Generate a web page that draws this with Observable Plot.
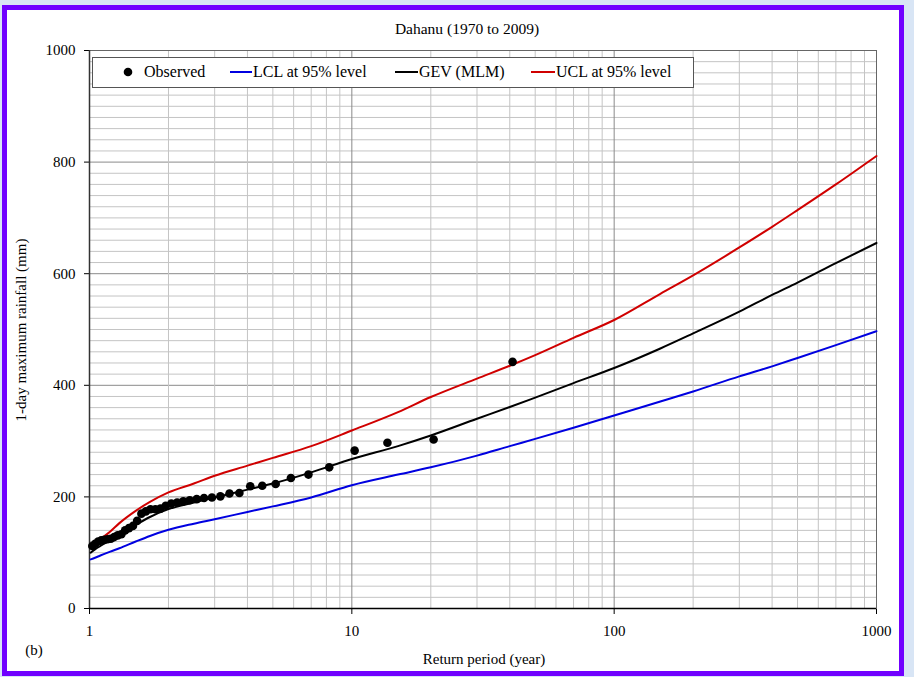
<!DOCTYPE html>
<html><head><meta charset="utf-8">
<script src="https://cdn.jsdelivr.net/npm/d3@7"></script>
<script src="https://cdn.jsdelivr.net/npm/@observablehq/plot@0.6"></script>
<style>
html,body{margin:0;padding:0;}
body{width:914px;height:677px;background:#d8e5f5;position:relative;overflow:hidden;font-family:"Liberation Serif","Times New Roman",serif;color:#000;}
#panel{position:absolute;left:2px;top:5px;width:902px;height:671px;border:5px solid #7000ff;background:#fff;box-sizing:border-box;}
#chart{position:absolute;left:0;top:0;}
.txt{position:absolute;font-size:15px;white-space:nowrap;line-height:1;}
#title{left:467px;top:29px;transform:translate(-50%,-50%);font-size:15.5px;}
#xlabel{left:484px;top:659px;transform:translate(-50%,-50%);}
#ylabel{left:21px;top:330px;transform:translate(-50%,-50%) rotate(-90deg);}
#tag{left:34px;top:650px;transform:translate(-50%,-50%);}
#legend{position:absolute;left:92px;top:57px;width:602px;height:31px;box-sizing:border-box;border:1px solid #555;background:#fff;}
.lt{position:absolute;font-size:16px;white-space:nowrap;line-height:1;top:72px;transform:translateY(-50%);}
#legsw{position:absolute;left:0;top:0;pointer-events:none;}
</style></head>
<body>
<div id="panel"></div>
<div id="chart"></div>
<div class="txt" id="title">Dahanu (1970 to 2009)</div>
<div class="txt" id="xlabel">Return period (year)</div>
<div class="txt" id="ylabel">1-day maximum rainfall (mm)</div>
<div class="txt" id="tag">(b)</div>
<div id="legend"></div>
<svg id="legsw" width="914" height="677"></svg>
<script>
// Observed annual maxima (return period in years, rainfall in mm)
const returnPeriod = [1.025,1.051,1.079,1.108,1.139,1.171,1.206,1.242,1.281,1.323,1.367,1.414,1.464,1.519,1.577,1.64,1.708,1.783,1.864,1.952,2.05,2.158,2.278,2.41,2.5625,2.733,2.929,3.154,3.417,3.727,4.1,4.556,5.125,5.857,6.833,8.2,10.25,13.67,20.5,41];
const observed = [112,116,120,122,123,124,125,128,131,133,140,144,148,157,170,174,178,178,179,184,188,190,192,194,196,198,199,201,206,207,219,220,223,234,240,253,283,297,303,442];

// Fitted curves
const curveT = [1.01,1.05,1.1,1.2,1.3,1.5,1.7,2,2.5,3,4,5,7,10,15,20,30,40,50,70,100,150,200,300,400,500,700,1000];
const gev = [100,106,112,123,133,150,164,178,190,199,213,224,244,268,291,310,340,361,378,404,431,466,493,532,562,584,619,655];
const lcl = [88,91,95,102,108,120,130,141,152,160,173,183,199,221,240,253,274,291,304,324,346,371,389,416,434,449,472,497];
const ucl = [110,116,124,138,153,175,191,208,224,238,256,270,291,319,352,379,412,435,454,485,517,564,597,647,684,714,760,811];

const seriesNames = ["LCL at 95% level","GEV (MLM)","UCL at 95% level"];
const seriesColors = ["#0000e0","#000000","#d00000"];

const xTicks = [1,10,100,1000];
const yTicks = [0,200,400,600,800,1000];
const xMinorGrid = [2,3,4,5,6,7,8,9,20,30,40,50,60,70,80,90,200,300,400,500,600,700,800,900];
const xMajorGrid = [10,100];
const yMinorGrid = d3.range(20,1000,20).filter(v => v % 200 !== 0);
const yMajorGrid = [200,400,600,800];

const curveRows = [];
[lcl,gev,ucl].forEach((arr,i)=>arr.forEach((v,j)=>curveRows.push({T:curveT[j],v,s:seriesNames[i]})));
const obsRows = returnPeriod.map((T,i)=>({T,v:observed[i]}));

const chart = Plot.plot({
  width:914, height:677,
  marginLeft:89, marginRight:38, marginTop:50, marginBottom:69,
  style:{background:"transparent", fontFamily:"Liberation Serif, Times New Roman, serif", fontSize:"15px", color:"#000", overflow:"visible"},
  x:{type:"log", domain:[1,1000], ticks:xTicks, tickFormat:d=>String(d), tickSize:6, tickPadding:11, label:null},
  y:{domain:[0,1000], ticks:yTicks, tickFormat:d=>String(d), tickSize:5, tickPadding:9, label:null},
  color:{domain:seriesNames, range:seriesColors},
  marks:[
    Plot.ruleY(yMinorGrid,{stroke:"#c4c4c4", strokeWidth:1}),
    Plot.ruleY(yMajorGrid,{stroke:"#8a8a8a", strokeWidth:1}),
    Plot.ruleX(xMinorGrid,{stroke:"#c4c4c4", strokeWidth:1}),
    Plot.ruleX(xMajorGrid,{stroke:"#8a8a8a", strokeWidth:1}),
    Plot.frame({stroke:"#666"}),
    Plot.ruleX([1],{stroke:"#333", strokeWidth:1.5}),
    Plot.ruleY([0],{stroke:"#000", strokeWidth:1.5}),
    Plot.line(curveRows,{x:"T", y:"v", z:"s", stroke:"s", strokeWidth:2, curve:"monotone-x"}),
    Plot.dot(obsRows,{x:"T", y:"v", r:4.3, fill:"#000", stroke:"none"})
  ]
});
document.getElementById("chart").appendChild(chart);

// Legend (swatches + labels)
const legItems = [
  {label:"Observed", type:"dot", color:"#000", sx:128, tx:144},
  {label:seriesNames[0], type:"line", color:seriesColors[0], sx:230, tx:253},
  {label:seriesNames[1], type:"line", color:seriesColors[1], sx:395, tx:419},
  {label:seriesNames[2], type:"line", color:seriesColors[2], sx:531, tx:556}
];
const sw = document.getElementById("legsw");
let svgInner = "";
legItems.forEach(it=>{
  if (it.type === "dot") svgInner += `<circle cx="${it.sx}" cy="72" r="4.3" fill="${it.color}"/>`;
  else svgInner += `<line x1="${it.sx}" x2="${it.tx-1}" y1="72" y2="72" stroke="${it.color}" stroke-width="2"/>`;
  const t = document.createElement("div");
  t.className = "lt";
  t.style.left = it.tx + "px";
  t.textContent = it.label;
  document.body.appendChild(t);
});
sw.innerHTML = svgInner;
</script>
</body></html>
